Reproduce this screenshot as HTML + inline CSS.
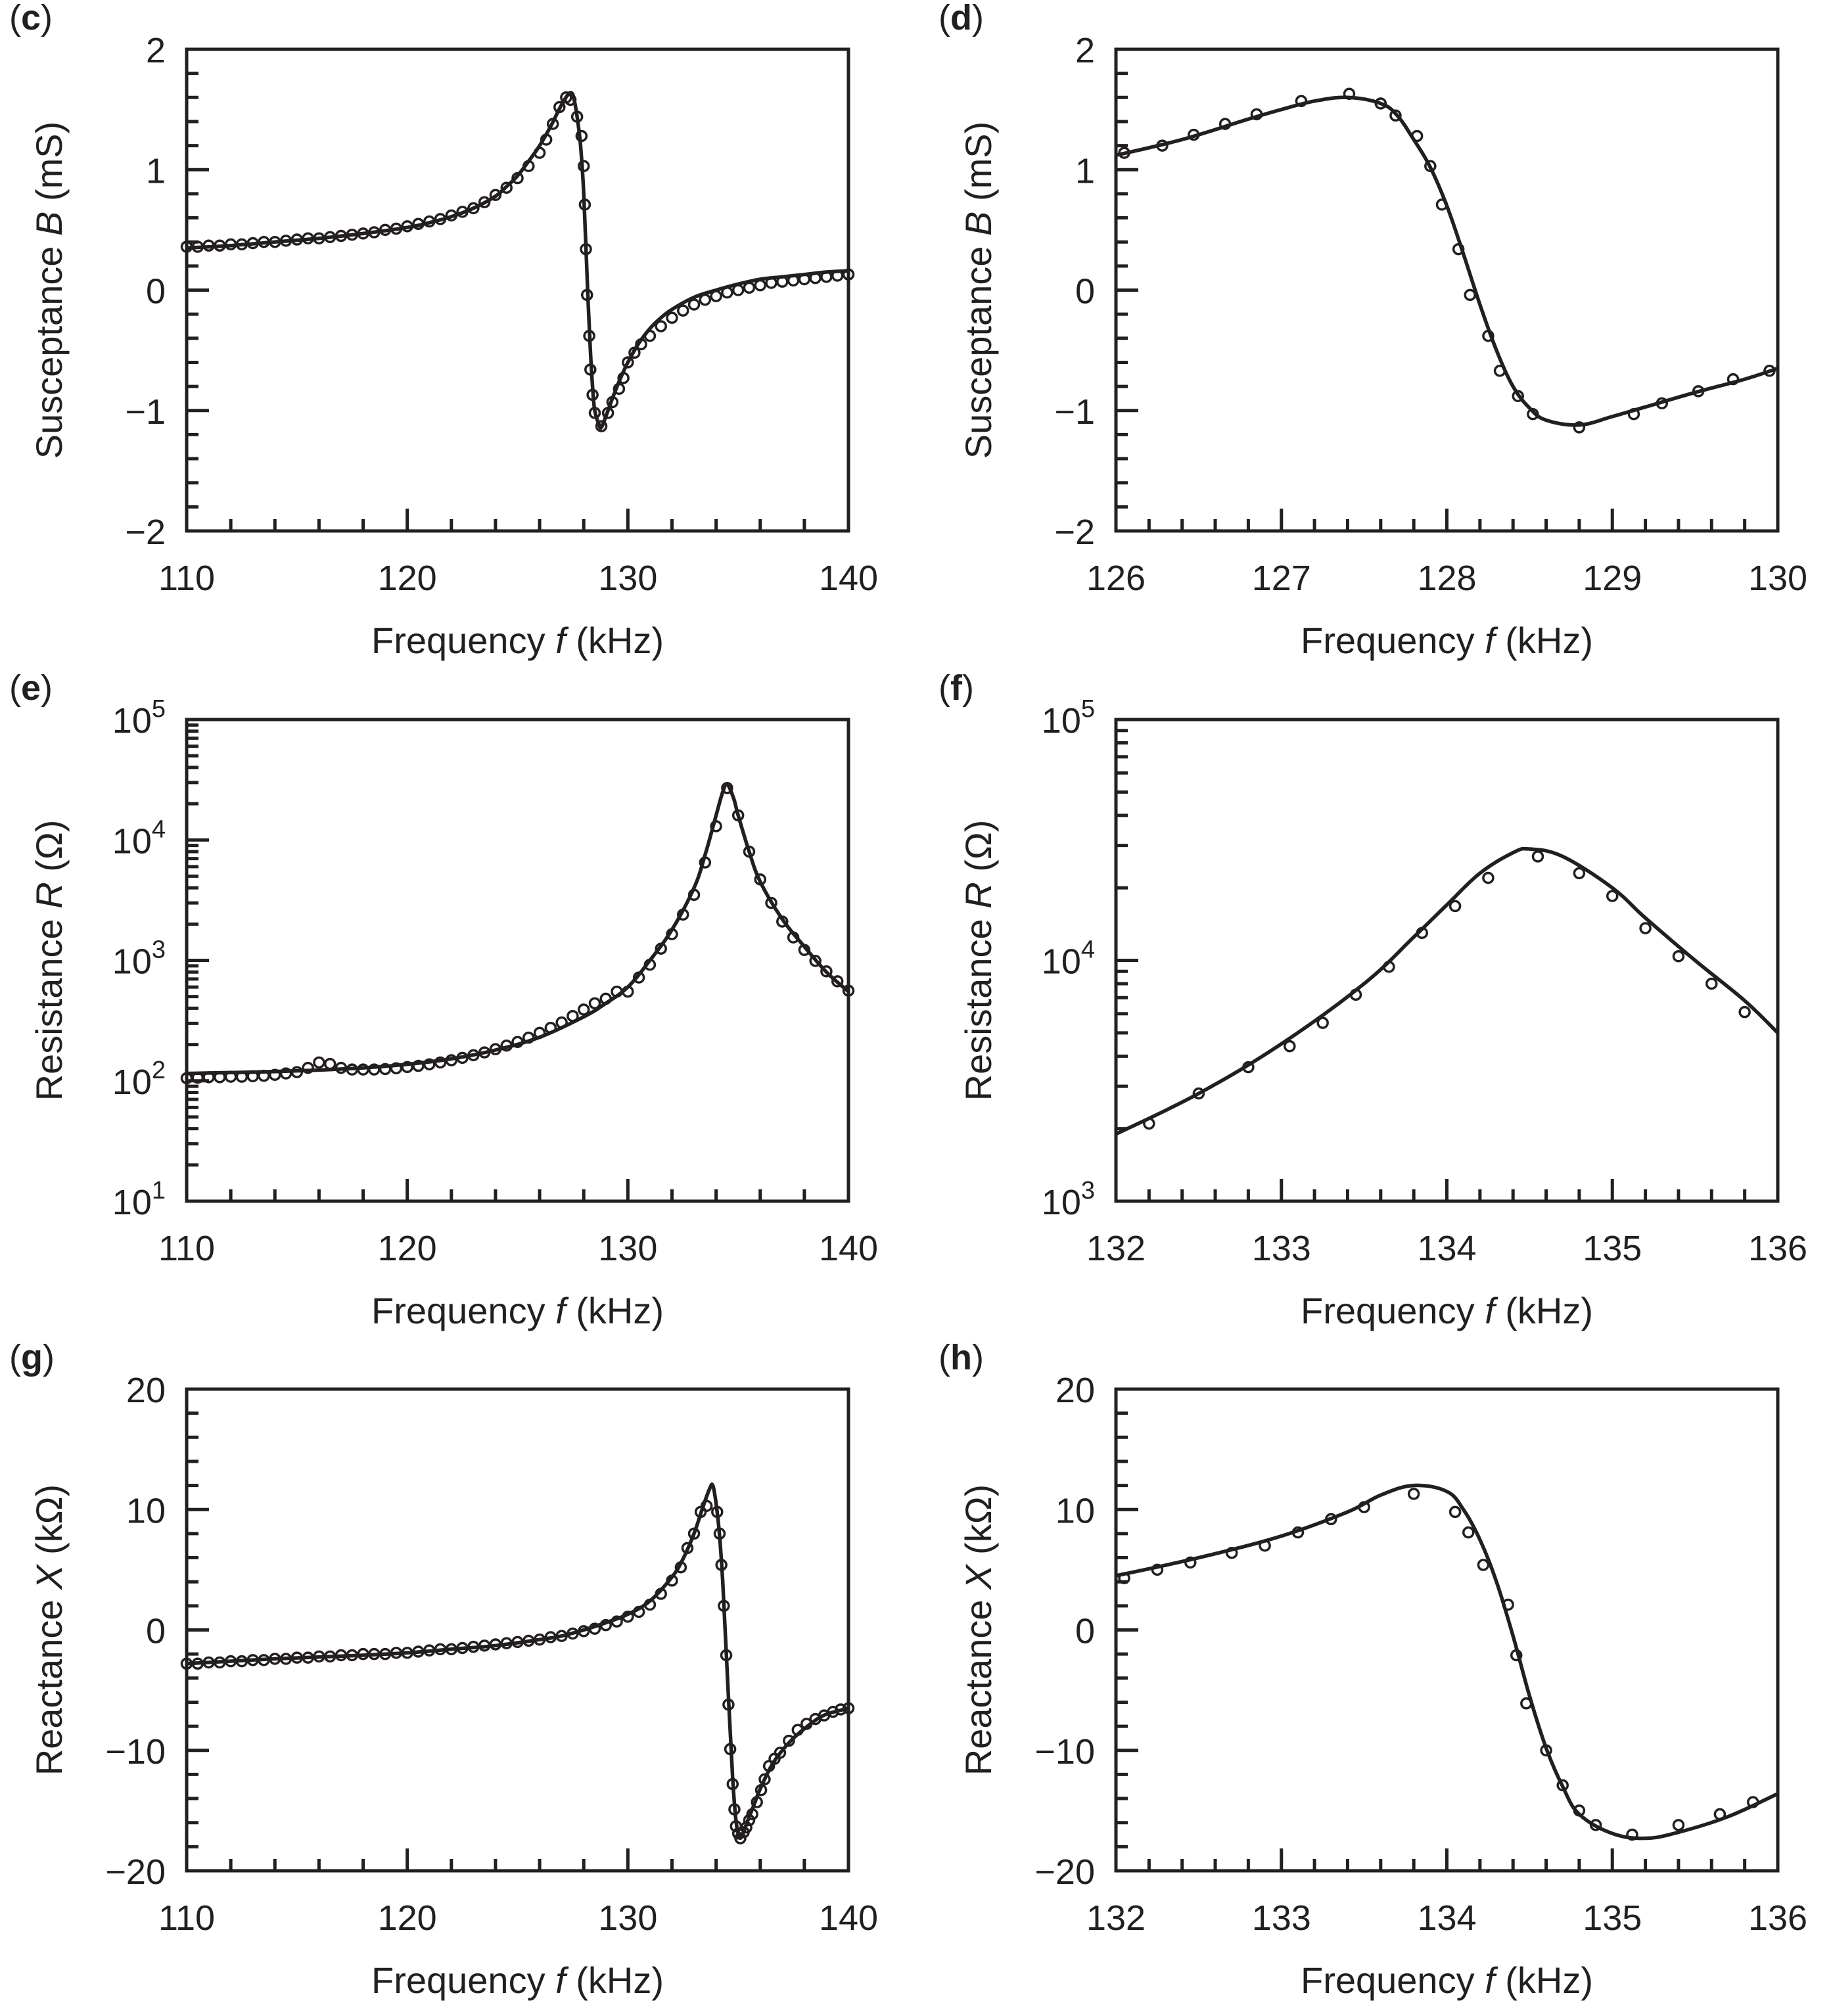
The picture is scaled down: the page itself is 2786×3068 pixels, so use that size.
<!DOCTYPE html>
<html><head><meta charset="utf-8">
<style>
html,body{margin:0;padding:0;background:#fff;}
svg{display:block;}
text{font-family:"Liberation Sans",Arial,sans-serif;fill:#231f20;}
</style></head>
<body>
<svg id="fig" width="2786" height="3068" viewBox="0 0 2786 3068" xmlns="http://www.w3.org/2000/svg"></svg>
<script>
// ---- Panel (c) data ----
const cLineF=[110,112,114,116,118,120,121,122,123,124,124.5,125,125.5,126,126.5,127,127.4,127.6,127.8,127.9,128,128.1,128.2,128.3,128.4,128.5,128.7,128.8,129,129.3,129.6,130,130.5,131,131.5,132,133,134,135,136,137,138,139,140];
const cLineB=[0.35,0.37,0.40,0.43,0.47,0.52,0.56,0.61,0.68,0.78,0.86,0.95,1.07,1.2,1.36,1.54,1.64,1.55,1.3,1.1,0.8,0.35,-0.1,-0.5,-0.8,-1.0,-1.12,-1.14,-1.05,-0.9,-0.76,-0.6,-0.44,-0.32,-0.23,-0.16,-0.06,0.0,0.05,0.09,0.11,0.13,0.15,0.16];
const cDotF=[110,110.5,111,111.5,112,112.5,113,113.5,114,114.5,115,115.5,116,116.5,117,117.5,118,118.5,119,119.5,120,120.5,121,121.5,122,122.5,123,123.5,124,124.5,125,125.5,126,126.3,126.6,126.9,127.2,127.4,127.7,127.9,128.0,128.05,128.1,128.15,128.25,128.3,128.4,128.5,128.8,129.1,129.3,129.6,129.8,130,130.3,130.6,131,131.5,132,132.5,133,133.5,134,134.5,135,135.5,136,136.5,137,137.5,138,138.5,139,139.5,140];
const cDotB=[0.36,0.36,0.37,0.37,0.38,0.38,0.39,0.40,0.40,0.41,0.42,0.43,0.43,0.44,0.45,0.46,0.47,0.48,0.50,0.51,0.53,0.55,0.57,0.59,0.62,0.65,0.68,0.73,0.79,0.85,0.93,1.03,1.14,1.25,1.38,1.52,1.60,1.58,1.44,1.28,1.03,0.71,0.34,-0.04,-0.38,-0.66,-0.87,-1.02,-1.13,-1.02,-0.93,-0.82,-0.73,-0.6,-0.52,-0.45,-0.38,-0.3,-0.23,-0.17,-0.12,-0.08,-0.05,-0.02,0.0,0.02,0.04,0.06,0.07,0.08,0.09,0.10,0.11,0.12,0.13];
// ---- Panel (d) data ----
const dLineF=[126,126.4,126.8,127,127.2,127.4,127.6,127.7,127.8,127.9,128,128.1,128.2,128.3,128.4,128.5,128.6,128.8,129,129.2,129.5,129.8,130];
const dLineB=[1.12,1.25,1.42,1.5,1.57,1.6,1.55,1.45,1.25,1.02,0.7,0.3,-0.12,-0.5,-0.8,-0.98,-1.08,-1.12,-1.05,-0.97,-0.85,-0.74,-0.65];
const dDotF=[126.05,126.28,126.47,126.66,126.85,127.12,127.41,127.6,127.69,127.82,127.9,127.97,128.07,128.14,128.25,128.32,128.43,128.52,128.8,129.13,129.3,129.52,129.73,129.95];
const dDotB=[1.14,1.2,1.29,1.38,1.46,1.57,1.63,1.55,1.45,1.28,1.03,0.71,0.34,-0.04,-0.38,-0.67,-0.88,-1.03,-1.14,-1.03,-0.94,-0.84,-0.74,-0.67];
// ---- Panel (e) data ----
const eLineF=[110,112,115,118,120,122,124,126,128,129,130,131,132,133,133.5,134,134.3,134.5,134.8,135,135.5,136,137,138,139,140];
const eLineR=[115,117,121,128,137,152,180,230,340,440,600,1000,1800,4000,7500,16000,25000,29000,22000,16000,8000,4500,2200,1300,800,550];
const eDotF=[110,110.5,111,111.5,112,112.5,113,113.5,114,114.5,115,115.5,116,116.5,117,117.5,118,118.5,119,119.5,120,120.5,121,121.5,122,122.5,123,123.5,124,124.5,125,125.5,126,126.5,127,127.5,128,128.5,129,129.5,130,130.5,131,131.5,132,132.5,133,133.5,134,134.5,135,135.5,136,136.5,137,137.5,138,138.5,139,139.5,140];
const eDotR=[105,106,107,107,108,108,109,110,112,115,118,128,142,138,128,124,124,124,125,127,130,133,137,142,148,155,163,172,183,196,210,228,250,275,305,345,390,440,480,550,550,720,920,1250,1650,2400,3500,6500,13000,27000,16000,8000,4700,3000,2100,1550,1220,990,810,670,560];
// ---- Panel (f) data ----
const fLineF=[132,132.5,133,133.5,133.8,134,134.2,134.4,134.5,134.7,135,135.2,135.5,135.8,136];
const fLineR=[1900,2800,4500,8000,12500,17000,23000,28000,29000,27000,20000,15000,10000,6800,5000];
const fDotF=[132.2,132.5,132.8,133.05,133.25,133.45,133.65,133.85,134.05,134.25,134.55,134.8,135.0,135.2,135.4,135.6,135.8];
const fDotR=[2100,2800,3600,4400,5500,7200,9400,13000,16800,22000,27000,23000,18500,13600,10400,8000,6100];
// ---- Panel (g) data ----
const gLineF=[110,114,118,120,122,124,126,127,128,129,130,131,132,132.5,133,133.4,133.7,133.85,134.0,134.15,134.3,134.45,134.6,134.75,134.9,135.05,135.2,135.4,135.7,136,136.5,137,137.5,138,138.5,139,140];
const gLineX=[-2.8,-2.4,-2.1,-1.9,-1.6,-1.3,-0.8,-0.5,0,0.6,1.3,2.4,4.4,5.9,8.0,10.2,11.7,12.0,10.5,8.0,4,-1.5,-7,-12.3,-15.8,-17.2,-17.0,-16.0,-14.6,-13.2,-11.3,-10.0,-9.0,-8.2,-7.5,-7.0,-6.5];
const gDotF=[110,110.5,111,111.5,112,112.5,113,113.5,114,114.5,115,115.5,116,116.5,117,117.5,118,118.5,119,119.5,120,120.5,121,121.5,122,122.5,123,123.5,124,124.5,125,125.5,126,126.5,127,127.5,128,128.5,129,129.5,130,130.5,131,131.5,132,132.4,132.7,133,133.3,133.57,134.05,134.16,134.24,134.35,134.46,134.56,134.64,134.75,134.83,134.9,135.0,135.1,135.25,135.37,135.5,135.64,135.85,136.04,136.2,136.4,136.65,136.9,137.3,137.7,138.1,138.5,138.9,139.3,139.65,140];
const gDotX=[-2.8,-2.8,-2.7,-2.7,-2.6,-2.6,-2.5,-2.5,-2.4,-2.4,-2.3,-2.3,-2.2,-2.2,-2.1,-2.1,-2.0,-2.0,-2.0,-1.9,-1.9,-1.8,-1.7,-1.6,-1.6,-1.5,-1.4,-1.3,-1.2,-1.1,-1.0,-0.9,-0.8,-0.6,-0.5,-0.3,-0.1,0.1,0.4,0.7,1.1,1.5,2.1,3.0,4.1,5.2,6.8,8.0,9.8,10.3,9.8,8.0,5.4,2.0,-2.1,-6.2,-9.9,-12.8,-14.9,-16.3,-16.9,-17.3,-16.8,-16.4,-15.8,-15.3,-14.3,-13.3,-12.4,-11.3,-10.7,-10.2,-9.2,-8.3,-7.8,-7.4,-7.1,-6.8,-6.6,-6.5];
// ---- Panel (h) data ----
const hLineF=[132,132.5,133,133.4,133.6,133.8,134,134.1,134.2,134.3,134.4,134.5,134.6,134.7,134.8,135,135.2,135.4,135.7,136];
const hLineX=[4.5,6,7.8,9.8,11.2,12,11.5,10,7.5,4,-0.5,-5.5,-9.8,-13,-15.3,-16.9,-17.3,-16.8,-15.5,-13.6];
const hDotF=[132.05,132.25,132.45,132.7,132.9,133.1,133.3,133.5,133.8,134.05,134.13,134.22,134.37,134.42,134.48,134.6,134.7,134.8,134.9,135.12,135.4,135.65,135.85];
const hDotX=[4.3,5,5.6,6.4,7,8.1,9.2,10.2,11.3,9.8,8.1,5.4,2.1,-2.1,-6.1,-10,-12.9,-15,-16.2,-17,-16.2,-15.3,-14.3];
// ---- Tick labels ----
const xTicksWide=[110,120,130,140];
const xTicksC2=[126,127,128,129,130];
const xTicksF=[132,133,134,135,136];
const yTicksB=[-2,-1,0,1,2];
const yTicksX=[-20,-10,0,10,20];
const yExpE=[1,2,3,4,5];
const yExpF=[3,4,5];

const svg=document.getElementById('fig');
const NS='http://www.w3.org/2000/svg';
function mk(tag,attrs,parent){const e=document.createElementNS(NS,tag);for(const k in attrs)e.setAttribute(k,attrs[k]);(parent||svg).appendChild(e);return e;}

const COLL=284,COLR=1698,W=1007,H=733;
const ROWT=[75,1095,2114];

function smoothPath(pts){
  let d='M'+pts[0][0].toFixed(1)+','+pts[0][1].toFixed(1);
  for(let i=0;i<pts.length-1;i++){
    const p0=pts[Math.max(0,i-1)],p1=pts[i],p2=pts[i+1],p3=pts[Math.min(pts.length-1,i+2)];
    const t=0.18;
    const c1=[p1[0]+(p2[0]-p0[0])*t,p1[1]+(p2[1]-p0[1])*t];
    const c2=[p2[0]-(p3[0]-p1[0])*t,p2[1]-(p3[1]-p1[1])*t];
    d+=' C'+c1[0].toFixed(1)+','+c1[1].toFixed(1)+' '+c2[0].toFixed(1)+','+c2[1].toFixed(1)+' '+p2[0].toFixed(1)+','+p2[1].toFixed(1);
  }
  return d;
}

function panel(opt){
  const g=mk('g',{});
  
  
  const L=opt.L,T=opt.T,R=L+W,B=T+H;
  const sx=v=>L+(v-opt.x0)/(opt.x1-opt.x0)*W;
  const sy=opt.log?(v=>B-(Math.log10(v)-opt.y0)/(opt.y1-opt.y0)*H):(v=>B-(v-opt.y0)/(opt.y1-opt.y0)*H);
  const tk=mk('g',{stroke:'#231f20','stroke-width':5},g);
  
  
  const nx=Math.round((opt.x1-opt.x0)/opt.xminor);
  for(let i=1;i<nx;i++){const v=opt.x0+i*opt.xminor;const maj=Math.abs(v/opt.xmajor-Math.round(v/opt.xmajor))<1e-6;const x=sx(v);mk('line',{x1:x,x2:x,y1:B,y2:B-(maj?34:18)},tk);}
  if(opt.log){
    for(let d=opt.y0;d<opt.y1;d++){for(let m=1;m<10;m++){const v=m*Math.pow(10,d);if(m===1&&d===opt.y0)continue;const y=sy(v);mk('line',{x1:L,x2:L+(m===1?34:18),y1:y,y2:y},tk);}}
  }else{
    const ny=Math.round((opt.y1-opt.y0)/opt.yminor);
    for(let i=1;i<ny;i++){const v=opt.y0+i*opt.yminor;const maj=Math.abs(v/opt.ymajor-Math.round(v/opt.ymajor))<1e-6;const y=sy(v);mk('line',{x1:L,x2:L+(maj?34:18),y1:y,y2:y},tk);}
  }
  const fr=mk('rect',{x:L,y:T,width:W,height:H,fill:'none',stroke:'#231f20','stroke-width':5},g);
  
  
  opt.xt.forEach(v=>{const t=mk('text',{x:sx(v),y:B+90,'font-size':54,'text-anchor':'middle'},g);t.textContent=v;
    
    });
  if(opt.log){
    opt.yt.forEach(e=>{const t=mk('text',{x:L-32,y:sy(Math.pow(10,e))+20,'font-size':54,'text-anchor':'end'},g);
      
      
      const a=mk('tspan',{},t);a.textContent='10';const b=mk('tspan',{dy:-24,'font-size':38},t);b.textContent=e;});
  }else{
    opt.yt.forEach(v=>{const t=mk('text',{x:L-32,y:sy(v)+20,'font-size':54,'text-anchor':'end'},g);t.textContent=(v<0?'\u2212'+(-v):v);
      
      });
  }
  const xt=mk('text',{x:L+W/2,y:B+186,'font-size':56,'text-anchor':'middle'},g);
  
  
  xt.innerHTML='Frequency <tspan font-style="italic">f</tspan> (kHz)';
  const yt=mk('text',{x:0,y:0,'font-size':56,'text-anchor':'middle',transform:`translate(${L-190},${T+H/2}) rotate(-90)`},g);
  
  
  yt.innerHTML=opt.ytitle;
  const pl=mk('text',{x:L-270,y:T-30,'font-size':54},g);
  
  
  pl.innerHTML='(<tspan font-weight="bold">'+opt.id+'</tspan>)';
  const dg=mk('g',{fill:'none',stroke:'#231f20','stroke-width':3.5},g);
  
  
  opt.df.forEach((f,i)=>{const c=mk('circle',{cx:sx(f),cy:sy(opt.dv[i]),r:7.5},dg);
    
    });
  const pts=opt.lf.map((f,i)=>[sx(f),sy(opt.lv[i])]);
  const p=mk('path',{d:smoothPath(pts),fill:'none',stroke:'#231f20','stroke-width':5.5,'stroke-linejoin':'round'},g);
  
  
}
const YB='Susceptance <tspan font-style="italic">B</tspan> (mS)';
const YR='Resistance <tspan font-style="italic">R</tspan> (\u03A9)';
const YX='Reactance <tspan font-style="italic">X</tspan> (k\u03A9)';
panel({id:'c',L:COLL,T:ROWT[0],x0:110,x1:140,xmajor:10,xminor:2,y0:-2,y1:2,ymajor:1,yminor:0.2,xt:xTicksWide,yt:yTicksB,ytitle:YB,lf:cLineF,lv:cLineB,df:cDotF,dv:cDotB});
panel({id:'d',L:COLR,T:ROWT[0],x0:126,x1:130,xmajor:1,xminor:0.2,y0:-2,y1:2,ymajor:1,yminor:0.2,xt:xTicksC2,yt:yTicksB,ytitle:YB,lf:dLineF,lv:dLineB,df:dDotF,dv:dDotB});
panel({id:'e',L:COLL,T:ROWT[1],log:true,x0:110,x1:140,xmajor:10,xminor:2,y0:1,y1:5,xt:xTicksWide,yt:yExpE,ytitle:YR,lf:eLineF,lv:eLineR,df:eDotF,dv:eDotR});
panel({id:'f',L:COLR,T:ROWT[1],log:true,x0:132,x1:136,xmajor:1,xminor:0.2,y0:3,y1:5,xt:xTicksF,yt:yExpF,ytitle:YR,lf:fLineF,lv:fLineR,df:fDotF,dv:fDotR});
panel({id:'g',L:COLL,T:ROWT[2],x0:110,x1:140,xmajor:10,xminor:2,y0:-20,y1:20,ymajor:10,yminor:2,xt:xTicksWide,yt:yTicksX,ytitle:YX,lf:gLineF,lv:gLineX,df:gDotF,dv:gDotX});
panel({id:'h',L:COLR,T:ROWT[2],x0:132,x1:136,xmajor:1,xminor:0.2,y0:-20,y1:20,ymajor:10,yminor:2,xt:xTicksF,yt:yTicksX,ytitle:YX,lf:hLineF,lv:hLineX,df:hDotF,dv:hDotX});
</script>
</body></html>
